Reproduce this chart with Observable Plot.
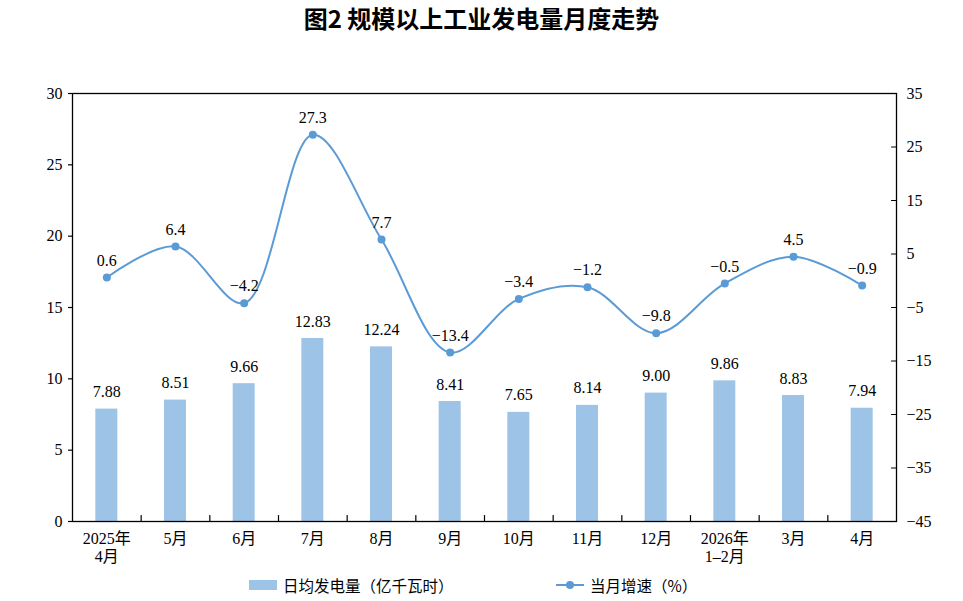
<!DOCTYPE html>
<html>
<head>
<meta charset="utf-8">
<script src="https://cdn.jsdelivr.net/npm/d3@7"></script>
<script src="https://cdn.jsdelivr.net/npm/@observablehq/plot@0.6"></script>
<style>
  body { margin: 0; background: #fff; }
  #wrap { position: relative; width: 963px; height: 601px; background: #fff; }
  #title {
    position: absolute; left: 0; top: 0; width: 963px; height: 60px;
    text-align: center; line-height: 70px;
    font: bold 24px "Noto Sans CJK SC", sans-serif; color: #000;
  }
  #chart { position: absolute; left: 0; top: 60px; }
  #legend {
    position: absolute; left: 0; top: 572px; width: 963px; height: 26px;
    font: 15.5px "Noto Sans CJK SC", sans-serif; color: #000;
  }
  .item { position: absolute; top: 0; height: 26px; display: flex; align-items: center; }
  .swatch { width: 28px; height: 10px; background: #9DC3E6; margin-right: 6px; }
  .lineKey { position: relative; width: 28px; height: 10px; margin-right: 6px; }
  .lineKey::before { content: ""; position: absolute; left: 0; right: 0; top: 4px; height: 2px; background: #5B9BD5; }
  .lineKey::after { content: ""; position: absolute; left: 10px; top: 1px; width: 8px; height: 8px; border-radius: 50%; background: #5B9BD5; }
  .paren { display: inline-block; width: 1em; text-align: center; }
</style>
</head>
<body>
<div id="wrap">
  <div id="title">图2 规模以上工业发电量月度走势</div>
  <div id="chart"></div>
  <div id="legend">
    <div class="item" style="left:249px"><span class="swatch"></span>日均发电量<span class="paren">（</span>亿千瓦时<span class="paren">）</span></div>
    <div class="item" style="left:556px"><span class="lineKey"></span>当月增速<span class="paren">（</span>%<span class="paren">）</span></div>
  </div>
</div>
<script>
// Months shown on the category axis
const months = ["2025年\n4月", "5月", "6月", "7月", "8月", "9月", "10月", "11月", "12月", "2026年\n1–2月", "3月", "4月"];
// Average daily generation, 100 million kWh (left axis)
const dailyOutput = [7.88, 8.51, 9.66, 12.83, 12.24, 8.41, 7.65, 8.14, 9.00, 9.86, 8.83, 7.94];
// Year-on-year growth of the month, % (right axis)
const growth = [0.6, 6.4, -4.2, 27.3, 7.7, -13.4, -3.4, -1.2, -9.8, -0.5, 4.5, -0.9];
// Axis ticks
const leftTicks = [0, 5, 10, 15, 20, 25, 30];
const rightTicks = [-45, -35, -25, -15, -5, 5, 15, 25, 35];

const leftDomain = [0, 30];
const rightDomain = [-45, 35];

// Map a growth value onto the left (primary) scale so both share one y scale
const toLeft = v => leftDomain[0] + (v - rightDomain[0]) * (leftDomain[1] - leftDomain[0]) / (rightDomain[1] - rightDomain[0]);
const fromLeft = v => rightDomain[0] + (v - leftDomain[0]) * (rightDomain[1] - rightDomain[0]) / (leftDomain[1] - leftDomain[0]);
const signed = (v, digits) => (v < 0 ? "\u2212" : "") + Math.abs(v).toFixed(digits);

const rows = months.map((m, i) => ({month: m, output: dailyOutput[i], growth: growth[i]}));

const W = 963, H = 510, mL = 72, mR = 67, mT = 33, mB = 49;
const step = (W - mL - mR) / months.length;

// A plain straight stroke used for the small axis ticks
const stroke = {draw(context, l) { context.moveTo(0, 0); context.lineTo(0, -l); }};

const serif = "'Liberation Serif', 'Noto Sans CJK SC', serif";

const chart = Plot.plot({
  width: W, height: H,
  marginLeft: mL, marginRight: mR, marginTop: mT, marginBottom: mB,
  style: {fontFamily: serif, fontSize: "16px", color: "#000", background: "#fff"},
  x: {type: "band", domain: months, paddingInner: 0.68, paddingOuter: 0.34, round: false},
  y: {domain: leftDomain},
  marks: [
    Plot.barY(rows, {x: "month", y: "output", fill: "#9DC3E6"}),
    Plot.text(rows, {x: "month", y: "output", text: d => d.output.toFixed(2), dy: -17, fontSize: 16, fill: "#000"}),
    Plot.line(rows, {x: "month", y: d => toLeft(d.growth), stroke: "#5B9BD5", strokeWidth: 2, curve: "catmull-rom"}),
    Plot.dot(rows, {x: "month", y: d => toLeft(d.growth), r: 4, fill: "#5B9BD5", stroke: "none"}),
    Plot.text(rows, {x: "month", y: d => toLeft(d.growth), text: d => signed(d.growth, 1), dy: -17, fontSize: 16, fill: "#000"}),
    Plot.frame({stroke: "#000", strokeWidth: 1.3}),
    // left axis
    Plot.axisY(leftTicks, {anchor: "left", tickSize: 4, tickPadding: 6, fontSize: 16, label: null, stroke: "#000", strokeWidth: 1.2}),
    // right axis (growth), ticks point into the plot area
    Plot.axisY(rightTicks.map(toLeft), {anchor: "right", tickSize: 0, tickPadding: 10, fontSize: 16, label: null,
      tickFormat: d => signed(Math.round(fromLeft(d)), 0)}),
    Plot.vector(rightTicks.map(toLeft), {y: d => d, frameAnchor: "right", length: 5, rotate: -90, anchor: "start", shape: stroke, stroke: "#000", strokeWidth: 1.2}),
    // category axis, ticks between categories pointing up
    Plot.axisX({anchor: "bottom", tickSize: 0, tickPadding: 10, fontSize: 16, lineHeight: 1.1, label: null}),
    Plot.vector(months.slice(0, -1), {x: d => d, frameAnchor: "bottom", dx: step / 2, length: 6, rotate: 0, anchor: "start", shape: stroke, stroke: "#000", strokeWidth: 1.2})
  ]
});

document.getElementById("chart").appendChild(chart);
</script>
</body>
</html>
